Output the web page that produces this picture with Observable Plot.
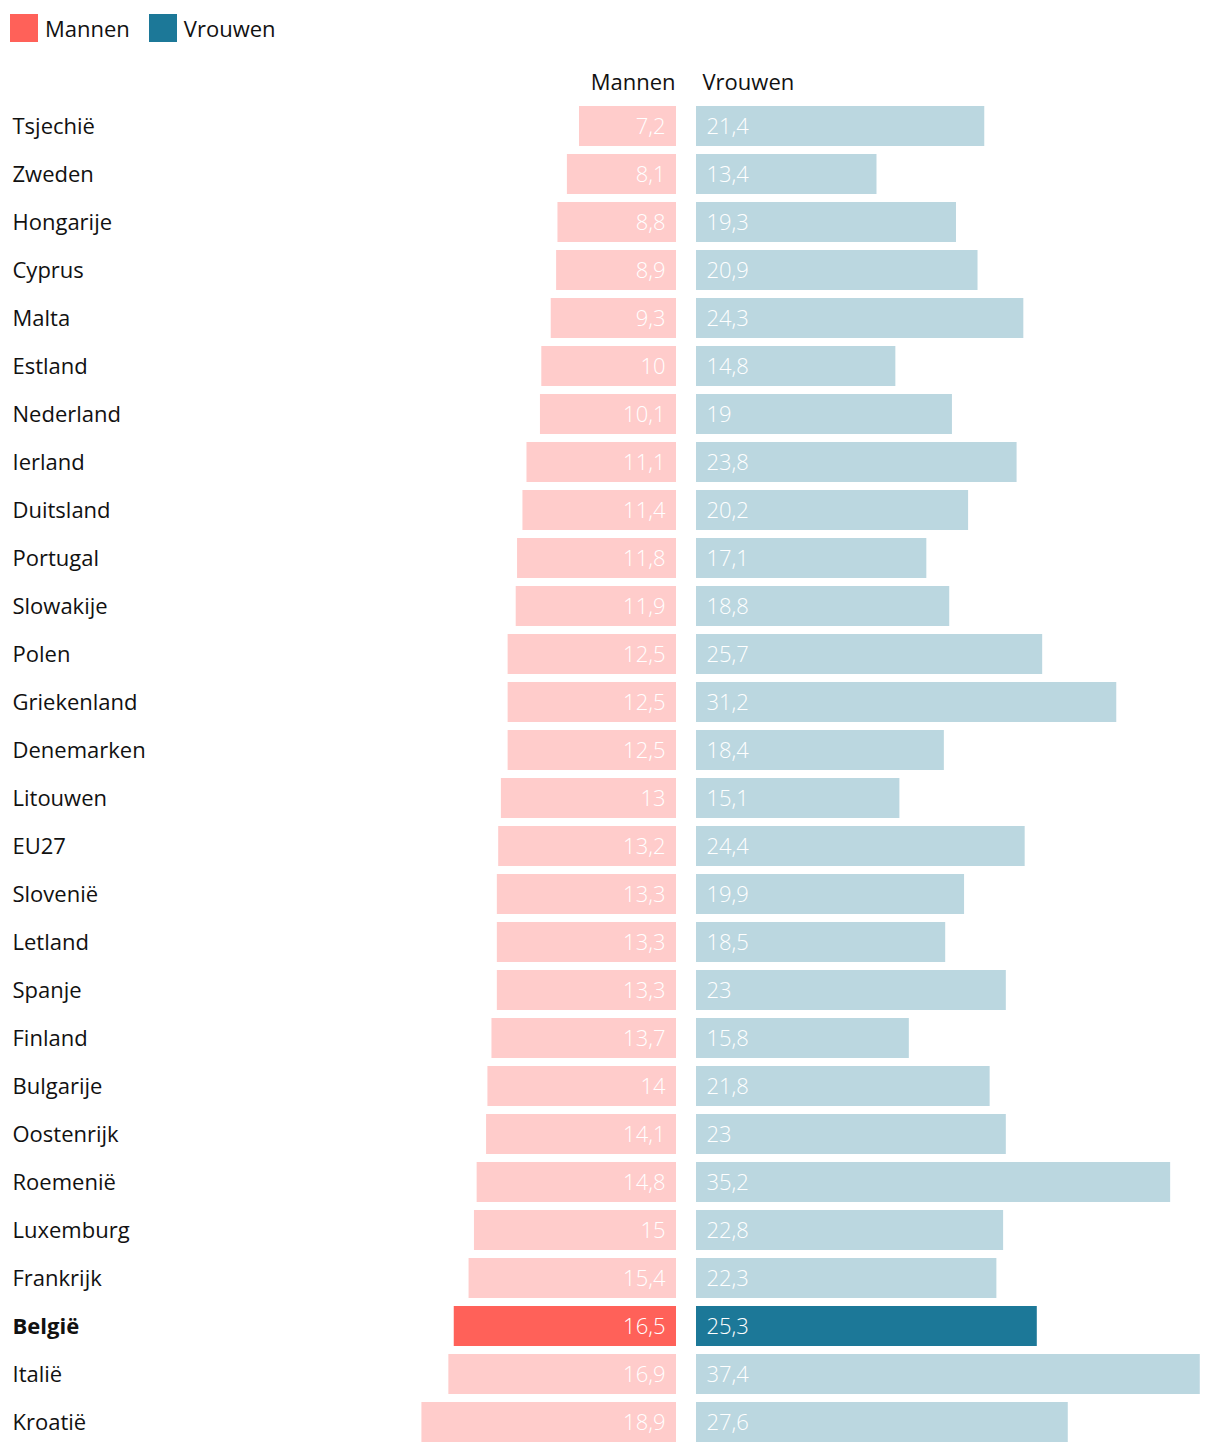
<!DOCTYPE html>
<html>
<head>
<meta charset="utf-8">
<script src="https://cdn.jsdelivr.net/npm/d3@7"></script>
<script src="https://cdn.jsdelivr.net/npm/@observablehq/plot@0.6"></script>
<style>
  body { margin: 0; background: #fff; font-family: "Open Sans", Lato, sans-serif; }
  #legend { height: 56px; display: flex; align-items: flex-start; padding-top: 14px; box-sizing: border-box; padding-left: 10px; font-size: 22px; color: #111; }
  .item { display: flex; align-items: center; margin-right: 19px; height: 28px; }
  .sw { width: 28px; height: 28px; margin-right: 7px; }
</style>
</head>
<body>
<div id="legend">
  <div class="item"><div class="sw" style="background:#ff6159"></div>Mannen</div>
  <div class="item"><div class="sw" style="background:#1c7898"></div>Vrouwen</div>
</div>
<div id="chart"></div>
<script>
const countries = ["Tsjechië","Zweden","Hongarije","Cyprus","Malta","Estland","Nederland","Ierland","Duitsland","Portugal","Slowakije","Polen","Griekenland","Denemarken","Litouwen","EU27","Slovenië","Letland","Spanje","Finland","Bulgarije","Oostenrijk","Roemenië","Luxemburg","Frankrijk","België","Italië","Kroatië"];
const mannen = [7.2,8.1,8.8,8.9,9.3,10,10.1,11.1,11.4,11.8,11.9,12.5,12.5,12.5,13,13.2,13.3,13.3,13.3,13.7,14,14.1,14.8,15,15.4,16.5,16.9,18.9];
const vrouwen = [21.4,13.4,19.3,20.9,24.3,14.8,19,23.8,20.2,17.1,18.8,25.7,31.2,18.4,15.1,24.4,19.9,18.5,23,15.8,21.8,23,35.2,22.8,22.3,25.3,37.4,27.6];
const highlight = "België";
const seriesNames = ["Mannen","Vrouwen"];

const data = countries.map((c,i) => ({country: c, m: mannen[i], v: vrouwen[i], hl: c === highlight}));
const fmt = v => String(v).replace(".", ",");
const font = "'Open Sans', Lato, sans-serif";

const chart = Plot.plot({
  width: 1220,
  height: 1398,
  marginLeft: 2.5,
  marginRight: 5.2,
  marginTop: 46,
  marginBottom: 8,
  style: {fontFamily: font, background: "#fff"},
  x: {domain: [-50, 40], axis: null},
  y: {domain: countries, axis: null, paddingInner: 1/6, paddingOuter: 1/12},
  marks: [
    Plot.barX(data, {y: "country", x1: 0, x2: d => -d.m, fill: d => d.hl ? "#ff6159" : "#ffcccb"}),
    Plot.barX(data, {y: "country", x1: 0, x2: "v", dx: 20, fill: d => d.hl ? "#1c7898" : "#bbd7e0"}),
    Plot.text(data, {y: "country", x: 0, text: d => fmt(d.m), textAnchor: "end", dx: -11, fill: "#fff", fontSize: 22, fontWeight: 300}),
    Plot.text(data, {y: "country", x: 0, text: d => fmt(d.v), textAnchor: "start", dx: 30, fill: "#fff", fontSize: 22, fontWeight: 300}),
    Plot.text(data.filter(d => !d.hl), {y: "country", text: "country", frameAnchor: "left", textAnchor: "start", dx: 9.5, fill: "#111", fontSize: 22}),
    Plot.text(data.filter(d => d.hl), {y: "country", text: "country", frameAnchor: "left", textAnchor: "start", dx: 9.5, fill: "#111", fontSize: 22, fontWeight: "bold"}),
    Plot.text([seriesNames[0]], {x: 0, frameAnchor: "top", text: d => d, textAnchor: "end", dx: -1, dy: -28, fill: "#111", fontSize: 22}),
    Plot.text([seriesNames[1]], {x: 0, frameAnchor: "top", text: d => d, textAnchor: "start", dx: 26, dy: -28, fill: "#111", fontSize: 22})
  ]
});
document.getElementById("chart").appendChild(chart);
</script>
</body>
</html>
